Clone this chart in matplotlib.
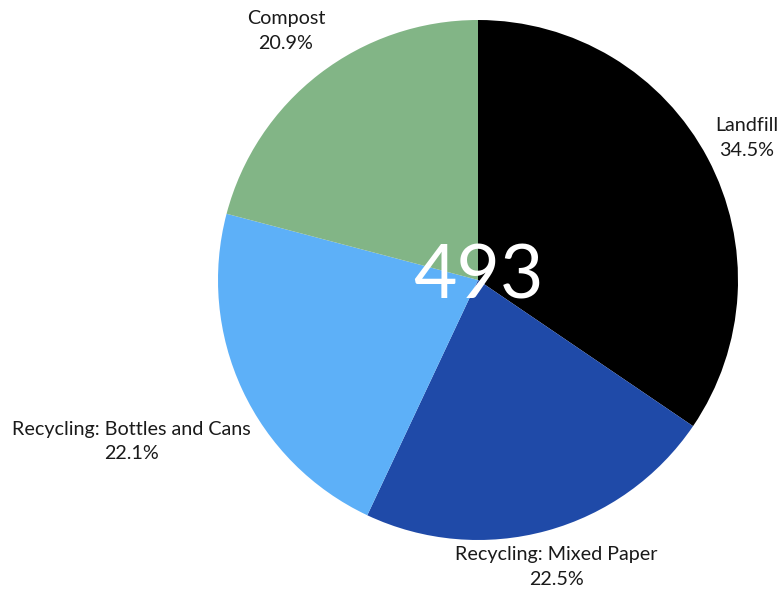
import numpy as np
import matplotlib
matplotlib.use("Agg")
import matplotlib.pyplot as plt

categories = ["Landfill", "Recycling: Mixed Paper", "Recycling: Bottles and Cans", "Compost"]
percents = [34.5, 22.5, 22.1, 20.9]
total = 493
colors = ["#000000", "#1F4AA8", "#5DB0F8", "#82B586"]
label_dist = [1.17, 1.145, 1.47, 1.21]

W, H = 779, 592
fig = plt.figure(figsize=(W / 100, H / 100), dpi=100)
cx, cy, r = 478, 280, 260
ax = fig.add_axes([(cx - r) / W, (H - cy - r) / H, 2 * r / W, 2 * r / H])
wedges, _ = ax.pie(percents, colors=colors, startangle=90, counterclock=False,
                   radius=1, wedgeprops=dict(linewidth=0))
ax.set_xlim(-1, 1)
ax.set_ylim(-1, 1)
ax.set_aspect("equal")
ax.axis("off")

font = "Lato"
for w, cat, p, d in zip(wedges, categories, percents, label_dist):
    ang = np.deg2rad((w.theta1 + w.theta2) / 2)
    ax.text(d * np.cos(ang), d * np.sin(ang), f"{cat}\n{p}%", ha="center", va="center",
            fontsize=14.2, family=font, color="#1a1a1a", linespacing=1.55, clip_on=False)

ax.text(0, 0.01, str(total), ha="center", va="center", fontsize=54, family=font,
        color="white")

fig.savefig("out.png", dpi=100)
